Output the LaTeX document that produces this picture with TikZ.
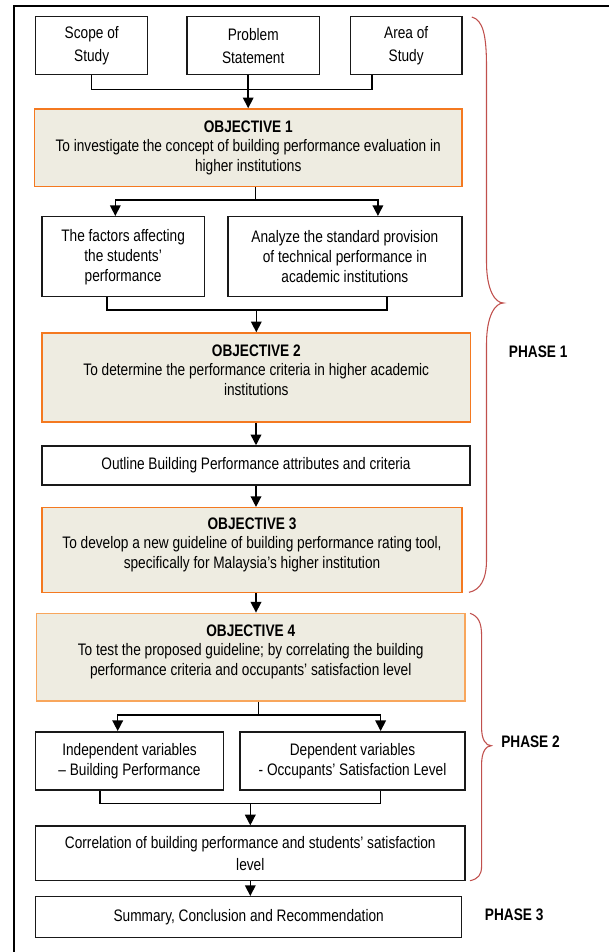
\documentclass[tikz,border=0pt]{standalone}
\usepackage{fontspec}
\setmainfont{Liberation Sans}[FakeStretch=0.82]
\usetikzlibrary{arrows.meta,positioning,calc}

\definecolor{objfill}{RGB}{238,236,225}
\definecolor{objline}{RGB}{244,121,32}
\definecolor{objlinelt}{RGB}{248,166,92}
\definecolor{bracered}{RGB}{192,80,77}

\tikzset{
  box/.style={draw=black!90, line width=1.1pt, align=center, inner sep=1pt,
    font=\fontsize{12.5}{15}\selectfont},
  objbox/.style={draw=objline, fill=objfill, line width=1.1pt},
  objtxt/.style={anchor=north, align=center, inner sep=0pt,
    font=\fontsize{12.5}{14.6}\selectfont},
  link/.style={line width=1.1pt},
  arr/.style={line width=1.1pt, -{Triangle[length=8pt,width=8pt]}},
  brace/.style={draw=bracered, line width=0.8pt},
  phase/.style={anchor=west, inner sep=0pt, font=\fontsize{12.5}{15}\selectfont\bfseries},
}

\begin{document}
\begin{tikzpicture}[x=0.75pt,y=-0.75pt]
\useasboundingbox (0,0) rectangle (609,952);
\draw[line width=1.5pt] (13.6,952) -- (13.6,5.7) -- (609,5.7);

% starting points
\node[box, font=\fontsize{12.5}{17.3}\selectfont, minimum width=84pt, minimum height=43.5pt] (scope) at (91.7,45.7) {Scope of\\Study};
\node[box, font=\fontsize{12.5}{17.3}\selectfont, minimum width=99.6pt, minimum height=43.5pt] (problem) at (253.2,45.7) {Problem\\Statement};
\node[box, font=\fontsize{12.5}{17.3}\selectfont, minimum width=83.9pt, minimum height=43.5pt] (area) at (406.2,45.7) {Area of\\Study};

% objective 1
\node[objbox, minimum width=320.9pt, minimum height=58.3pt] (obj1) at (248.2,147.8) {};
\node[objtxt] (obj1t) at ([yshift=-9pt]obj1.north) {\textbf{OBJECTIVE 1}\\To investigate the concept of building performance evaluation in\\higher institutions};

\node[box, minimum width=121.8pt, minimum height=60pt] (factors) at (123.1,256.7) {The factors affecting\\the students’\\performance};
\node[box, minimum width=175.3pt, minimum height=60pt] (analyze) at (344.9,256.7) {Analyze the standard provision\\of technical performance in\\academic institutions};

% objective 2
\node[objbox, minimum width=321.6pt, minimum height=66.8pt] (obj2) at (256.3,377.5) {};
\node[objtxt] (obj2t) at ([yshift=-9pt]obj2.north) {\textbf{OBJECTIVE 2}\\To determine the performance criteria in higher academic\\institutions};

\node[box, minimum width=321.1pt, minimum height=29.3pt] (outline) at (256,465.5) {Outline Building Performance attributes and criteria};

% objective 3
\node[objbox, minimum width=315.1pt, minimum height=63.5pt] (obj3) at (252,550) {};
\node[objtxt] (obj3t) at ([yshift=-8pt]obj3.north) {\textbf{OBJECTIVE 3}\\To develop a new guideline of building performance rating tool,\\specifically for Malaysia’s higher institution};

% objective 4
\node[objbox, draw=objlinelt, minimum width=321.3pt, minimum height=65.8pt] (obj4) at (250.7,657.2) {};
\node[objtxt] (obj4t) at ([yshift=-9pt]obj4.north) {\textbf{OBJECTIVE 4}\\To test the proposed guideline; by correlating the building\\performance criteria and occupants’ satisfaction level};

\node[box, minimum width=140.7pt, minimum height=43.7pt] (indep) at (129.5,760.9) {Independent variables\\– Building Performance};
\node[box, minimum width=168.7pt, minimum height=43.7pt] (dep) at (352.5,760.9) {Dependent variables\\- Occupants’ Satisfaction Level};

\node[box, font=\fontsize{12.5}{16.3}\selectfont, minimum width=321.9pt, minimum height=41pt] (corr) at (250.3,853.4) {Correlation of building performance and students’ satisfaction\\level};
\node[box, minimum width=319.5pt, minimum height=30.8pt] (summary) at (248.7,917.2) {Summary, Conclusion and Recommendation};

% connectors
\coordinate (j1) at (247.8,89.3);
\draw[link] (scope.south) |- (j1) -| ([xshift=-25.65pt]area.south);
\draw[arr] (problem.south -| obj1.north) -- (obj1.north);

\coordinate (s1) at (255.5,200);
\draw[link] (obj1.south -| s1) -- (s1);
\draw[arr] (s1) -| ([xshift=-5.85pt]factors.north);
\draw[arr] (s1) -| ([xshift=24.75pt]analyze.north);

\coordinate (m1) at (255.5,310);
\draw[link] ([xshift=-12.2pt]factors.south) |- (m1) -| ([xshift=31.4pt]analyze.south);
\draw[arr] (m1 -| obj2.north) -- (obj2.north);

\draw[arr] (obj2.south -| outline.north) -- (outline.north);
\draw[arr] (outline.south) -- (outline.south |- obj3.north);
\draw[arr] (outline.south |- obj3.south) -- (outline.south |- obj4.north);

\coordinate (s2) at (258.6,715);
\draw[link] (obj4.south -| s2) -- (s2);
\draw[arr] (s2) -| ([xshift=-8.85pt]indep.north);
\draw[arr] (s2) -| ([xshift=21.1pt]dep.north);

\coordinate (m2) at (249.3,803.3);
\draw[link] ([xshift=-22pt]indep.south) |- (m2) -| ([xshift=21.1pt]dep.south);
\draw[arr] (m2 -| corr.north) -- (corr.north);
\draw[arr] (corr.south) -- (corr.south |- summary.north);

% phases
\draw[brace] (471.8,17) .. controls (483,20) and (486.5,35) .. (486.5,67)
  -- (486.5,262) .. controls (486.5,290) and (495,303) .. (503.5,303)
  .. controls (495,303) and (486.5,316) .. (486.5,344)
  -- (486.5,560) .. controls (486.5,580) and (480,590) .. (469,592.3);
\draw[brace] (470,613.3) .. controls (478,616) and (481.6,622) .. (481.6,636)
  -- (481.6,728) .. controls (481.6,740) and (486,745.7) .. (491.3,745.7)
  .. controls (486,745.7) and (481.6,752) .. (481.6,764)
  -- (481.6,866) .. controls (481.6,875) and (478,879) .. (470,880.7);

\node[phase] (ph1) at (508.7,351.7) {PHASE 1};
\node[phase] (ph2) at (501,741.7) {PHASE 2};
\node[phase] (ph3) at (484.7,914.3) {PHASE 3};
\end{tikzpicture}
\end{document}
